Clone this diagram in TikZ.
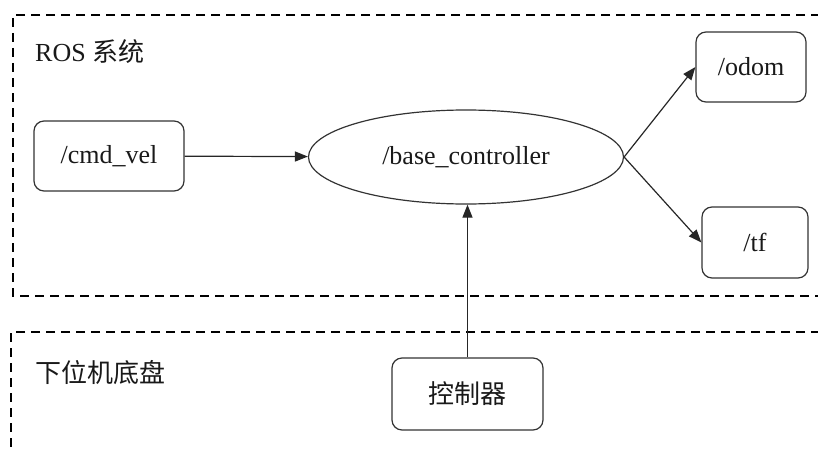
\documentclass[tikz,border=0pt]{standalone}
\usepackage{fontspec}
\setmainfont{Liberation Serif}
\newfontfamily\cjk{Noto Sans CJK SC}
\usetikzlibrary{arrows.meta,shapes.geometric}
\begin{document}
\begin{tikzpicture}[x=1pt,y=-1pt,
  every node/.style={font=\fontsize{26}{30}\selectfont, text=black!90},
  topic/.style={draw=black!80, line width=1.2pt, rounded corners=10pt, inner sep=0pt},
  group/.style={draw=black, line width=2.8pt, dash pattern=on 9pt off 6pt},
  flow/.style={draw=black!85, line width=1.2pt, -{Triangle[length=13pt,width=10pt]}}
]
\useasboundingbox (0,0) rectangle (818,452);
% system boundaries
\draw[group] (835,15) -- (13,15) -- (13,296) -- (835,296);
\draw[group] (835,332) -- (11,332) -- (11,470);
\node[anchor=west, inner sep=0pt] (roslbl) at (35,52) {ROS {\cjk 系统}};
\node[anchor=west, inner sep=0pt] (hwlbl) at (35,373) {\cjk 下位机底盘};
% nodes
\node[topic, minimum width=150pt, minimum height=70pt] (cmd) at (109,156) {/cmd\_vel};
\node[draw=black!80, line width=1.2pt, ellipse, minimum width=315pt, minimum height=94pt, inner sep=0pt] (base) at (466,157) {/base\_controller};
\node[topic, minimum width=110pt, minimum height=70pt] (odom) at (751,67) {/odom};
\node[topic, minimum width=106pt, minimum height=71pt] (tf) at (755,242.5) {/tf};
\node[topic, minimum width=151pt, minimum height=72pt] (ctrl) at (467.5,394) {\cjk 控制器};
% connectors
\draw[flow] (cmd) -- (base);
\draw[flow] (base.east) -- (odom.west);
\draw[flow] (base.east) -- (tf.west);
\draw[flow] (ctrl.north) -- (ctrl.north |- base.south);
\end{tikzpicture}
\end{document}
